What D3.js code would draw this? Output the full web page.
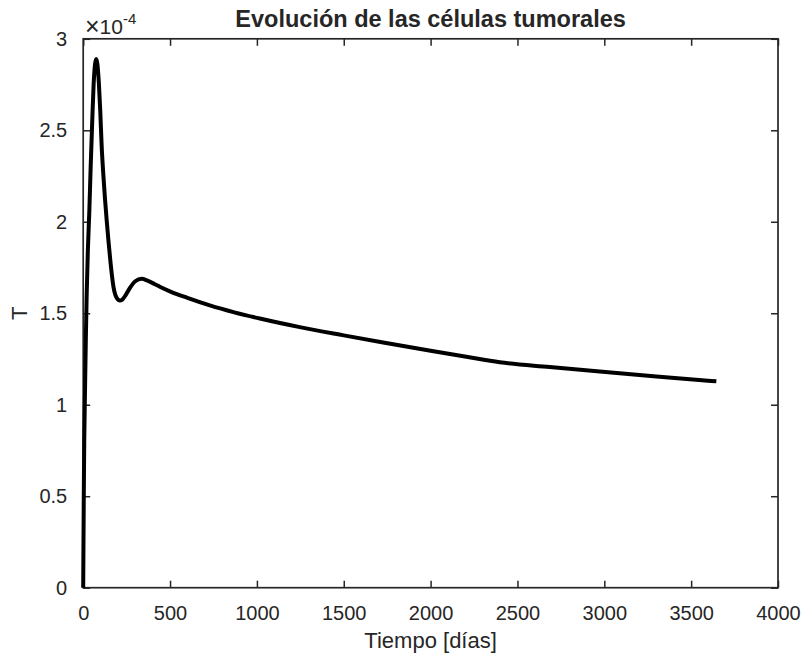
<!DOCTYPE html>
<html>
<head>
<meta charset="utf-8">
<script src="https://cdn.jsdelivr.net/npm/d3@7/dist/d3.min.js"></script>
<style>
  html, body { margin: 0; padding: 0; background: #fff; }
  svg { display: block; }
  text { font-family: "Liberation Sans", Arial, Helvetica, sans-serif; fill: #262626; }
</style>
</head>
<body>
<svg id="chart" width="803" height="659"></svg>
<script>
// ---- data (T in units of 1e-4) ----
const tDays = [0, 3, 6, 10, 15, 20, 27, 35, 43, 52, 60, 68, 75,
  82, 90, 98, 106, 115, 125, 135, 145, 155, 165, 175, 185, 197, 211,
  225, 245, 270, 300, 336, 370, 410, 441, 499, 600, 729, 870, 1017,
  1247, 1500, 1727, 2000, 2206, 2398, 2686, 2974, 3300, 3645];
const tumorT = [0, 0.45, 0.8, 1.05, 1.35, 1.6, 1.85, 2.05, 2.3, 2.55, 2.75, 2.86, 2.89,
  2.86, 2.76, 2.61, 2.42, 2.27, 2.13, 2.01, 1.90, 1.80, 1.71, 1.64, 1.60, 1.578, 1.570,
  1.575, 1.60, 1.64, 1.675, 1.688, 1.678, 1.660, 1.645, 1.620, 1.584, 1.543, 1.505, 1.471,
  1.424, 1.379, 1.340, 1.295, 1.262, 1.232, 1.206, 1.181, 1.154, 1.128];
const xTicks = [0, 500, 1000, 1500, 2000, 2500, 3000, 3500, 4000];
const yTicks = [0, 0.5, 1, 1.5, 2, 2.5, 3];
const yTickLabels = ["0", "0.5", "1", "1.5", "2", "2.5", "3"];
const titleText = "Evolución de las células tumorales";
const xLabel = "Tiempo [días]";
const yLabel = "T";

// ---- layout ----
const L = 83.2, R = 778, T = 38.8, B = 587.7;
const axisColor = "#262626";
const svg = d3.select("#chart");

const x = d3.scaleLinear().domain([0, 4000]).range([L, R]);
const y = d3.scaleLinear().domain([0, 3]).range([B, T]);
const tickLen = 7;

const fmtY = d => yTickLabels[yTicks.indexOf(d)];
const axB = svg.append("g").attr("transform", `translate(0,${B})`)
  .call(d3.axisBottom(x).tickValues(xTicks).tickSize(-tickLen).tickPadding(tickLen + 11).tickFormat(d3.format("d")));
const axT = svg.append("g").attr("transform", `translate(0,${T})`)
  .call(d3.axisTop(x).tickValues(xTicks).tickSize(-tickLen).tickFormat(""));
const axLft = svg.append("g").attr("transform", `translate(${L},0)`)
  .call(d3.axisLeft(y).tickValues(yTicks).tickSize(-tickLen).tickPadding(tickLen + 9).tickFormat(fmtY));
const axRt = svg.append("g").attr("transform", `translate(${R},0)`)
  .call(d3.axisRight(y).tickValues(yTicks).tickSize(-tickLen).tickFormat(""));

[axB, axT, axLft, axRt].forEach(g => {
  g.select(".domain").remove();
  g.selectAll(".tick line").attr("stroke", axisColor).attr("stroke-width", 1.5);
  g.selectAll(".tick text").attr("fill", axisColor)
    .style("font-family", '"Liberation Sans", Arial, sans-serif').style("font-size", "20px");
});
axB.selectAll(".tick text").attr("dy", "0.71em");

// box
svg.append("rect").attr("x", L).attr("y", T).attr("width", R - L).attr("height", B - T)
  .attr("fill", "none").attr("stroke", axisColor).attr("stroke-width", 1.7);

// line
const line = d3.line().x((d, i) => x(tDays[i])).y(d => y(d)).curve(d3.curveMonotoneX);
svg.append("path").datum(tumorT).attr("d", line)
  .attr("fill", "none").attr("stroke", "#000").attr("stroke-width", 4)
  .attr("stroke-linejoin", "round").attr("stroke-linecap", "butt");

// exponent label
const ex = svg.append("text").attr("x", 85).attr("y", 33.5).style("font-size", "21px");
ex.append("tspan").style("font-size", "25px").attr("dy", 1).text("×");
ex.append("tspan").attr("dy", -1).text("10");
ex.append("tspan").attr("dy", -10).style("font-size", "15px").text("-4");

// title
svg.append("text").attr("x", (L + R) / 2).attr("y", 27).attr("text-anchor", "middle")
  .style("font-size", "23.5px").style("font-weight", "bold").attr("fill", "#000").text(titleText);

// axis labels
svg.append("text").attr("x", (L + R) / 2).attr("y", 648).attr("text-anchor", "middle")
  .style("font-size", "22px").text(xLabel);
svg.append("text").attr("transform", `translate(27,${(T + B) / 2}) rotate(-90)`)
  .attr("text-anchor", "middle").style("font-size", "22px").text(yLabel);
</script>
</body>
</html>
